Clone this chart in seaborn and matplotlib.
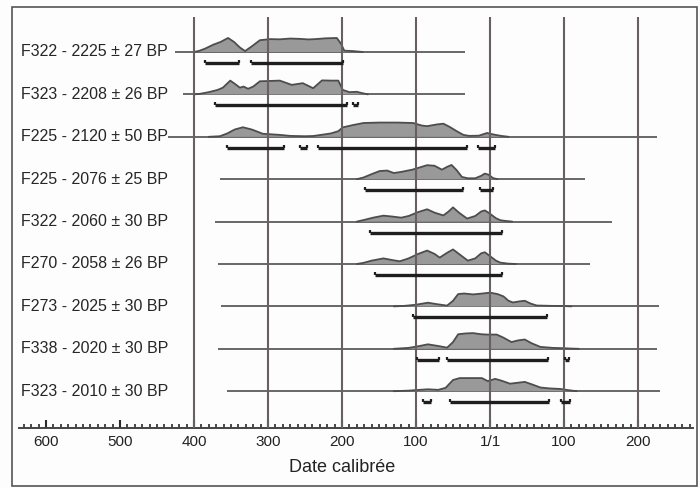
import numpy as np
import matplotlib.pyplot as plt
import seaborn as sns
from matplotlib.ticker import MultipleLocator
from matplotlib.patches import Rectangle

# ===============================
# Data (years: negative = BC)
# ===============================
labels = [
    "F322 - 2225 ± 27 BP",
    "F323 - 2208 ± 26 BP",
    "F225 - 2120 ± 50 BP",
    "F225 - 2076 ± 25 BP",
    "F322 - 2060 ± 30 BP",
    "F270 - 2058 ± 26 BP",
    "F273 - 2025 ± 30 BP",
    "F338 - 2020 ± 30 BP",
    "F323 - 2010 ± 30 BP",
]

line_start = [-426, -415, -435, -365, -372, -368, -363, -368, -356]
line_end = [-34, -34, 226, 128, 165, 135, 228, 226, 230]

# probability curves (heights in px, peak ~13)
curve_years = [
    [-400, -393, -385, -374, -364, -354, -346, -338, -331, -322, -311, -297, -284,
     -270, -257, -245, -236, -222, -207, -201, -197, -185, -172],
    [-400, -392, -380, -368, -361, -351, -344, -338, -333, -327, -320, -311, -297,
     -284, -268, -253, -239, -227, -215, -205, -199, -190, -180, -172, -165],
    [-380, -365, -355, -345, -334, -322, -307, -284, -270, -250, -239, -225, -215,
     -205, -199, -185, -171, -150, -125, -104, -92, -85, -72, -63, -55, -45, -36,
     -28, -15, -4, 5, 15, 25],
    [-180, -171, -160, -149, -139, -130, -120, -105, -95, -85, -75, -65, -58, -52,
     -45, -38, -30, -20, -12, -7, -2, 4, 10],
    [-180, -170, -158, -144, -132, -120, -110, -97, -85, -75, -63, -56, -50, -42,
     -31, -20, -12, -7, 0, 8, 14, 22, 30],
    [-180, -171, -160, -144, -132, -122, -110, -97, -85, -75, -68, -58, -50, -40,
     -30, -20, -12, -7, 0, 8, 14, 25, 35],
    [-130, -115, -100, -84, -72, -58, -50, -43, -35, -23, -10, 0, 10, 18, 25, 31,
     40, 47, 55, 63, 80, 100, 110],
    [-130, -110, -95, -84, -70, -58, -50, -43, -33, -23, -12, -4, 9, 18, 29, 38,
     47, 56, 68, 85, 100, 110, 120],
    [-130, -110, -95, -84, -70, -60, -50, -41, -30, -11, -3, 7, 15, 27, 37, 47,
     57, 68, 80, 95, 105, 117],
]
curve_heights = [
    [0, 1, 3, 6.5, 9, 12.5, 9, 4, 0.8, 5, 10.5, 11.5, 11.3, 12, 11.7, 11.2, 11.5,
     12.2, 12.5, 7, 1.2, 0.8, 0],
    [0, 0.5, 2, 4, 6, 12.3, 9, 6, 7, 5, 7, 11.7, 12, 12.3, 8.5, 10, 5.5, 12.5,
     12.3, 12.3, 4, 2, 2.3, 1, 0],
    [0, 0.5, 3, 6.5, 8.5, 6.5, 2.7, 1.7, 0.8, 0.5, 0.7, 2, 3, 5, 8.4, 10.5, 12.3,
     12.7, 12.7, 12.3, 10, 9.5, 11, 11.7, 9, 5, 1.7, 0.8, 1, 3.4, 2, 0.8, 0],
    [0, 1.5, 4.5, 7.3, 7.7, 5.5, 6.5, 8.5, 10.5, 12.5, 12, 8.5, 11, 12.7, 8, 2,
     0.8, 0.8, 3, 5, 4, 1, 0],
    [0, 1.5, 3.5, 5.3, 4.5, 3.5, 5, 8.5, 11, 8, 5.5, 9, 12.7, 8, 2.7, 5, 9, 10,
     7, 3, 1.2, 0.5, 0],
    [0, 1, 3, 5, 3.5, 2.4, 5, 9, 12, 9, 5.7, 10, 13, 8, 3, 5, 9.5, 10.5, 7, 3,
     1.2, 0.3, 0],
    [0, 0.5, 1.5, 3.3, 2, 0.7, 5, 11, 11.5, 10.7, 11.5, 12.3, 11, 9, 5, 3.5, 4.5,
     5, 2.5, 0.8, 0.5, 0.3, 0],
    [0, 0.8, 2.5, 4, 2.5, 1, 6, 13, 13.7, 14, 13, 12.7, 12.7, 10, 6, 7.5, 8.3, 5,
     1.7, 0.8, 0.5, 0.2, 0],
    [0, 0.5, 1.2, 1.7, 1.2, 3, 10, 11.7, 11.7, 11.7, 9, 11, 9.5, 6.7, 7.5, 8.3,
     6, 3.3, 2.5, 2, 1, 0],
]

# 95.4% ranges
ranges = [
    [(-385, -339), (-323, -199)],
    [(-372, -193), (-185, -178)],
    [(-356, -278), (-257, -247), (-232, -31), (-16, 7)],
    [(-169, -36), (-14, 4)],
    [(-162, 16)],
    [(-155, 16)],
    [(-104, 77)],
    [(-99, -69), (-58, 78), (101, 107)],
    [(-90, -80), (-54, 80), (96, 108)],
]

tick_years = [-600, -500, -400, -300, -200, -100, 0, 100, 200]
tick_labels = ["600", "500", "400", "300", "200", "100", "1/1", "100", "200"]
grid_years = [-400, -300, -200, -100, 0, 100, 200]

# ===============================
# Style
# ===============================
sns.set_style("white")
plt.rcParams['font.family'] = ['Liberation Sans', 'DejaVu Sans']
plt.rcParams['xtick.bottom'] = True
plt.rcParams['xtick.minor.bottom'] = True
plt.rcParams['xtick.minor.visible'] = True
plt.rcParams['xtick.direction'] = 'in'

fig = plt.figure(figsize=(7, 4.88), dpi=100, facecolor='#fdfdfd')
ax = fig.add_axes([19 / 700, 1 - 428 / 488, 674 / 700, 411 / 488])
ax.set_facecolor('#fdfdfd')

ROW_PX = 42.4 / 1.12   # pixels per row, curves drawn a bit taller
y_top, y_bot = -0.825, 8.868

# ===============================
# Rows
# ===============================
for i, lab in enumerate(labels):
    yrs = np.array(curve_years[i])
    top = i - np.array(curve_heights[i]) / ROW_PX

    ax.hlines(i, line_start[i], line_end[i], color='#5c5c5c', lw=1.3, zorder=2)
    ax.fill_between(yrs, i, top, facecolor='#999999', edgecolor='none', zorder=2.5)
    sns.lineplot(x=yrs, y=top, ax=ax, color='#4d4d4d', lw=1.3,
                 sort=False, estimator=None, zorder=3)

    for a, b in ranges[i]:
        ax.hlines(i + 0.26, a, b, color='#1e1e1e', lw=2.4, zorder=5)
        ax.vlines([a, b], i + 0.19, i + 0.26, color='#1e1e1e', lw=1.6, zorder=5)

    ax.text(-634, i, lab, ha='left', va='center', fontsize=11.5, color='#262626')

ax.vlines(grid_years, y_top, y_bot, color='#676060', lw=1.5, zorder=4)

# ===============================
# Axes
# ===============================
ax.set_xlim(-636.5, 274.3)
ax.set_ylim(y_bot, y_top)
ax.set_yticks([])
for s in ['top', 'left', 'right']:
    ax.spines[s].set_visible(False)
ax.spines['bottom'].set_color('#444444')
ax.spines['bottom'].set_linewidth(1.4)

ax.set_xticks(tick_years)
ax.set_xticklabels(tick_labels)
ax.xaxis.set_minor_locator(MultipleLocator(10))
ax.tick_params(axis='x', which='major', direction='in', length=5.5, width=1.5,
               color='#2a2a2a', pad=5, labelsize=11, labelcolor='#222222',
               bottom=True)
ax.tick_params(axis='x', which='minor', direction='in', length=3.2, width=1.2,
               color='#2a2a2a', bottom=True)

fig.text(342 / 700, 1 - 467 / 488, "Date calibrée", ha='center', va='center',
         fontsize=13, color='#222222')

fig.patches.append(Rectangle((12 / 700, 2 / 488), 685 / 700, 479 / 488,
                             transform=fig.transFigure, fill=False,
                             edgecolor='#555555', lw=1.2))

fig.savefig("out.png", dpi=100, facecolor=fig.get_facecolor())
